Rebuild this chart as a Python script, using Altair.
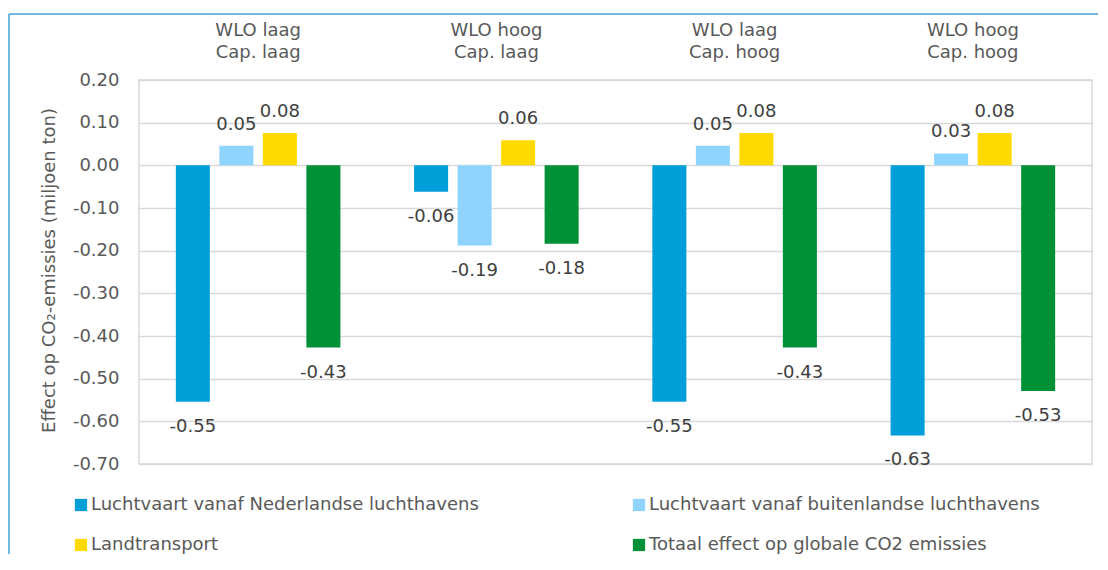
import altair as alt
import pandas as pd

groups = ["WLO laag\nCap. laag", "WLO hoog\nCap. laag", "WLO laag\nCap. hoog", "WLO hoog\nCap. hoog"]
series = [
    "Luchtvaart vanaf Nederlandse luchthavens",
    "Luchtvaart vanaf buitenlandse luchthavens",
    "Landtransport",
    "Totaal effect op globale CO2 emissies",
]
colors = ["#009fda", "#8fd4fe", "#ffda00", "#009036"]
# legend is filled column by column: this order gives the reference's row layout
legend_order = [0, 2, 1, 3]

nl = [-0.554, -0.062, -0.554, -0.633]
bl = [0.046, -0.188, 0.046, 0.028]
land = [0.076, 0.059, 0.076, 0.076]
tot = [-0.427, -0.184, -0.427, -0.529]

y_ticks = [0.2, 0.1, 0.0, -0.1, -0.2, -0.3, -0.4, -0.5, -0.6, -0.7]

rows = []
for i, g in enumerate(groups):
    for s, vals in zip(series, [nl, bl, land, tot]):
        rows.append({"group": g, "series": s, "value": vals[i]})
df = pd.DataFrame(rows)
hdr = pd.DataFrame({"group": groups})

FONT = "DejaVu Sans"
GRAY = "#595959"

x_enc = alt.X("group:N", sort=groups, axis=None,
              scale=alt.Scale(paddingInner=0, paddingOuter=0))
xo_enc = alt.XOffset("series:N", sort=series,
                     scale=alt.Scale(paddingInner=0.218, paddingOuter=0.847))
y_enc = alt.Y("value:Q",
              scale=alt.Scale(domain=[-0.7, 0.2], nice=False, zero=False),
              axis=alt.Axis(values=y_ticks, format=".2f", ticks=False, domain=False,
                            labelExpr="replace(datum.label, '\u2212', '-')",
                            labelPadding=20, title="Effect op CO₂-emissies (miljoen ton)",
                            titleX=-90, titleY=190, titleAngle=-90, titleAlign="center",
                            titleBaseline="middle"))

base = alt.Chart(df).transform_calculate(
    lbl="replace(format(datum.value, '.2f'), '\u2212', '-')"
)

bars = base.mark_bar().encode(
    x=x_enc, xOffset=xo_enc, y=y_enc,
    color=alt.Color("series:N",
                    scale=alt.Scale(domain=[series[i] for i in legend_order],
                                    range=[colors[i] for i in legend_order]),
                    legend=alt.Legend(title=None, orient="none", legendX=-67, legendY=416,
                                      columns=2, columnPadding=151, rowPadding=22,
                                      symbolType="square", symbolSize=150, labelOffset=1,
                                      symbolStrokeWidth=0, labelFontSize=18,
                                      labelColor=GRAY, labelLimit=0, labelFont=FONT)),
)

pos_lbl = base.transform_filter("datum.value >= 0").mark_text(
    baseline="alphabetic", dy=-16, fontSize=18, color="#404040", font=FONT
).encode(x=x_enc, xOffset=xo_enc, y=alt.Y("value:Q"), text="lbl:N")

neg_lbl = base.transform_filter("datum.value < 0").mark_text(
    baseline="top", dy=16, fontSize=18, color="#404040", font=FONT
).encode(x=x_enc, xOffset=xo_enc, y=alt.Y("value:Q"), text="lbl:N")

headers = alt.Chart(hdr).mark_text(
    lineBreak="\n", lineHeight=22, baseline="middle", fontSize=18, color=GRAY, font=FONT
).encode(x=alt.X("group:N", sort=groups), y=alt.value(-49), text="group:N")

frame_src = alt.Chart(alt.Data(values=[{"a": 1}]))
frame_left = frame_src.mark_rule(color="#3fa6d6", strokeWidth=1.5).encode(
    x=alt.value(-130), y=alt.value(-66), y2=alt.value(480))
frame_top = frame_src.mark_rule(color="#3fa6d6", strokeWidth=1.5).encode(
    x=alt.value(-130), x2=alt.value(960), y=alt.value(-66))

chart = alt.layer(bars, pos_lbl, neg_lbl, headers, frame_left, frame_top).properties(
    width=953, height=384,
    autosize=alt.AutoSizeParams(type="none"),
    padding={"left": 131, "top": 72, "right": 6, "bottom": 90},
).configure(font=FONT).configure_view(
    stroke="#d9d9d9", strokeWidth=1.5
).configure_axis(
    gridColor="#d9d9d9", gridWidth=1.5, labelFontSize=18, labelColor=GRAY, labelFont=FONT,
    titleFontSize=18, titleColor=GRAY, titleFont=FONT, titleFontWeight="normal"
)

chart.save("out.html", embed_options={"renderer": "svg", "actions": False})
